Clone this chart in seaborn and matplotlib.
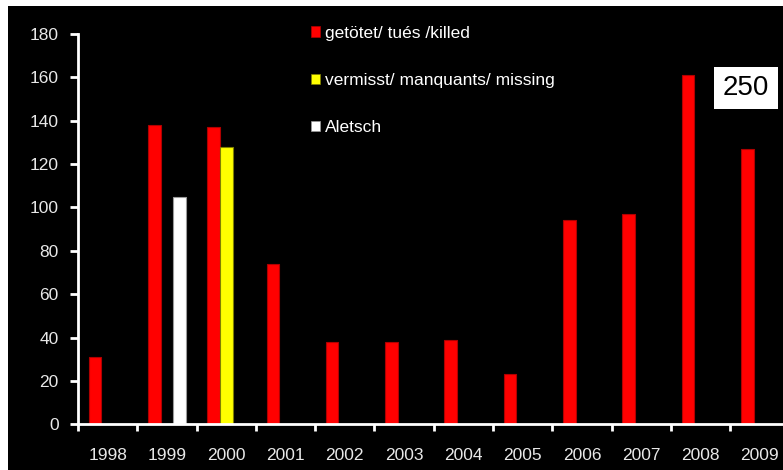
import numpy as np
import pandas as pd
import matplotlib
matplotlib.use("Agg")
import matplotlib.pyplot as plt
from matplotlib.patches import Rectangle, Patch
import seaborn as sns

years = ["1998", "1999", "2000", "2001", "2002", "2003", "2004", "2005",
         "2006", "2007", "2008", "2009"]
killed = [31, 138, 137, 74, 38, 38, 39, 23, 94, 97, 161, 127]
missing_years = ["2000"]
missing = [128]
aletsch_years = ["1999"]
aletsch = [105]
series_labels = ["getötet/ tués /killed", "vermisst/ manquants/ missing", "Aletsch"]
y_ticks = [0, 20, 40, 60, 80, 100, 120, 140, 160, 180]
note_text = "250"

rows = []
for y, v in zip(years, killed):
    rows.append((y, series_labels[0], v))
for y, v in zip(missing_years, missing):
    rows.append((y, series_labels[1], v))
for y, v in zip(aletsch_years, aletsch):
    rows.append((y, series_labels[2], v))
df = pd.DataFrame(rows, columns=["year", "series", "value"])

sns.set_theme(style="white")
plt.rcParams["font.family"] = ["Liberation Sans", "DejaVu Sans"]

colors = {series_labels[0]: "#ff0000", series_labels[1]: "#ffff00", series_labels[2]: "#ffffff"}
edges = {series_labels[0]: "#b00000", series_labels[1]: "#808000", series_labels[2]: "#9a9a9a"}

W, H = 783, 470
fig = plt.figure(figsize=(W / 100, H / 100), dpi=100, facecolor="white")
fig.add_artist(Rectangle((8 / W, 0), 1, 1 - 6 / H, transform=fig.transFigure,
                         facecolor="black", edgecolor="none", zorder=0))

x0, y0, ytop = 78, 424.3, 34
ax = fig.add_axes([x0 / W, (H - y0) / H, 1 - x0 / W, (y0 - ytop) / H])
ax.set_facecolor("none")

sns.barplot(data=df, x="year", y="value", hue="series", order=years,
            hue_order=series_labels, palette=colors, width=0.64, dodge=True,
            ax=ax, legend=False, linewidth=0.8, errorbar=None, saturation=1)
for container, lab in zip(ax.containers, series_labels):
    for bar in container:
        bar.set_edgecolor(edges[lab])

ax.set_xlim(-0.5, 11.39)
ax.set_ylim(0, 180)
ax.set_yticks(y_ticks)
ax.set_xlabel("")
ax.set_ylabel("")

for s in ["top", "right"]:
    ax.spines[s].set_visible(False)
for s in ["left", "bottom"]:
    ax.spines[s].set_color("white")
    ax.spines[s].set_linewidth(2)

ax.tick_params(axis="y", colors="white", labelcolor="#e8e8e8", length=6, width=2,
               direction="out", labelsize=12.5, pad=8, left=True)
ax.tick_params(axis="x", which="major", length=0, labelcolor="#e8e8e8",
               labelsize=12.5, pad=17)
ax.set_xticks(np.arange(-0.5, 11.5, 1), minor=True)
ax.tick_params(axis="x", which="minor", colors="white", length=5, width=2,
               direction="out", bottom=True)

handles = [Patch(facecolor=colors[l], edgecolor=edges[l], linewidth=0.5) for l in series_labels]
leg = fig.legend(handles, series_labels, loc="upper left",
                 bbox_to_anchor=(295 / W, 1 - 10 / H), frameon=False,
                 fontsize=12.5, labelcolor="white", labelspacing=1.86,
                 handlelength=0.55, handleheight=0.55, handletextpad=0.25)

fig.text(746 / W, 1 - 88 / H, note_text, fontsize=20, color="black",
         ha="center", va="center",
         bbox=dict(boxstyle="square,pad=0.3", facecolor="white", edgecolor="none"))

fig.savefig("out.png", dpi=100, facecolor="white")
